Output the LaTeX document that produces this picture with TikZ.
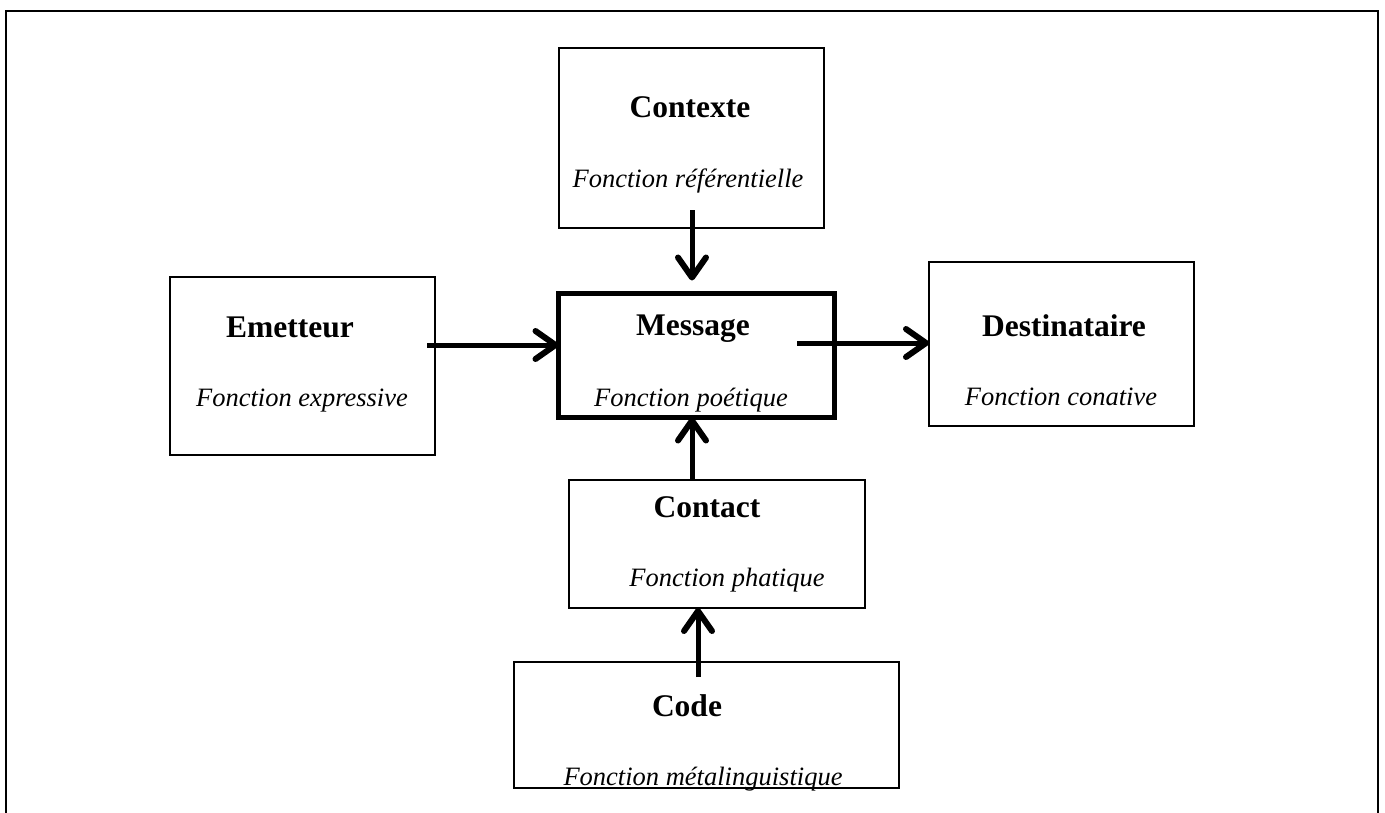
\documentclass[tikz,border=0pt]{standalone}
\usepackage{fontspec}
\setmainfont{Liberation Serif}
\usetikzlibrary{arrows.meta,calc}
\tikzset{
  box/.style={draw, line width=2pt, inner sep=0pt, outer sep=0pt},
  mainbox/.style={draw, line width=5pt, inner sep=0pt, outer sep=0pt},
  ttl/.style={inner sep=0pt, anchor=base, font=\fontsize{31.5}{36}\selectfont\bfseries},
  fn/.style={inner sep=0pt, anchor=base, font=\fontsize{26.5}{30}\selectfont\itshape},
  arr/.style={line width=5pt, -{Straight Barb[length=20pt, width=28pt, line width=6pt, round]}},
}
\begin{document}
\begin{tikzpicture}[x=1pt, y=-1pt]
\useasboundingbox (0,0) rectangle (1385,812);
% outer frame
\draw[line width=2.5pt] (6,840) -- (6,11) -- (1378,11) -- (1378,840);
% boxes
\node[box, minimum width=265pt, minimum height=180pt] (ctx) at (691.5,138) {};
\node[box, minimum width=265pt, minimum height=178pt] (emt) at (302.5,366) {};
\node[mainbox, minimum width=276pt, minimum height=124pt] (msg) at (696.5,355.5) {};
\node[box, minimum width=265pt, minimum height=164pt] (dst) at (1061.5,344) {};
\node[box, minimum width=296pt, minimum height=128pt] (cnt) at (717,544) {};
\node[box, minimum width=385pt, minimum height=126pt] (cod) at (706.5,725) {};
% texts
\node[ttl] (ctxT) at (690,117) {Contexte};
\node[fn]  (ctxF) at (688,187) {Fonction référentielle};
\node[ttl] (emtT) at (290,337) {Emetteur};
\node[fn]  (emtF) at (302,406) {Fonction expressive};
\node[ttl] (msgT) at (693,335) {Message};
\node[fn]  (msgF) at (691,406) {Fonction poétique};
\node[ttl] (dstT) at (1064,336) {Destinataire};
\node[fn]  (dstF) at (1061,405) {Fonction conative};
\node[ttl] (cntT) at (707,517) {Contact};
\node[fn]  (cntF) at (727,586) {Fonction phatique};
\node[ttl] (codT) at (687,716) {Code};
\node[fn]  (codF) at (703,785) {Fonction métalinguistique};
% arrow start points
\coordinate (a1) at (692,210);
\coordinate (a2) at (427,345);
\coordinate (a3) at (797,343);
\coordinate (a5) at (698,677);
% arrows
\draw[arr] (a1) -- ([yshift=13pt]msg.north -| a1);
\draw[arr] (a2) -- (msg.west |- a2);
\draw[arr] (a3) -- (dst.west |- a3);
\draw[arr] (cnt.north -| a1) -- (msg.south -| a1);
\draw[arr] (a5) -- (cnt.south -| a5);
\end{tikzpicture}
\end{document}
